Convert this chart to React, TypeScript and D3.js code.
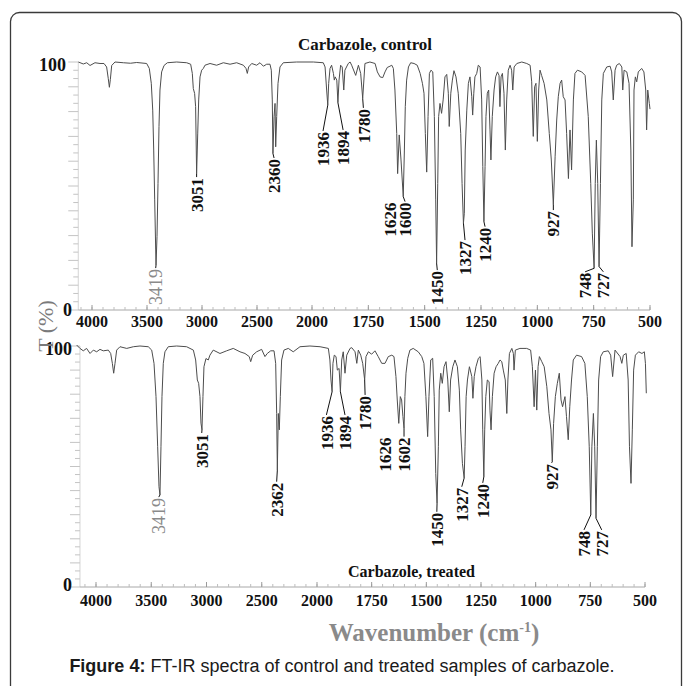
import React from 'react';
import * as d3 from 'd3';

// ---------- data ----------
const xTickValues = [4000, 3500, 3000, 2500, 2000, 1750, 1500, 1250, 1000, 750, 500];
const yTickLabels = [0, 100];

// [wavenumber (cm-1), transmittance (%)]
const controlSpectrum: [number, number][] = [
  [4124, 100], [4079, 99.2], [4048, 99.7], [4018, 98.6], [3973, 99.7], [3927, 99.4], [3891, 99.4],
  [3867, 98], [3852, 93.3], [3842, 89.8], [3833, 93], [3821, 98.6], [3791, 100], [3715, 99.7],
  [3650, 99.5], [3594, 99.8], [3503, 99.4], [3479, 97.4], [3461, 91.4], [3448, 80.6], [3439, 64.5],
  [3430, 44.4], [3421, 24.2], [3418, 18.1], [3409, 29.6], [3400, 51], [3391, 74], [3382, 88.7],
  [3367, 96], [3345, 98.6], [3315, 99.7], [3230, 100], [3139, 99.7], [3103, 99.1], [3088, 95.4],
  [3079, 89.3], [3067, 87.3], [3058, 82], [3052, 64.5], [3049, 55], [3039, 71], [3030, 84.7],
  [3018, 94], [3003, 96.7], [2988, 97.4], [2973, 98.7], [2927, 99.4], [2867, 98.7], [2806, 99.7],
  [2745, 99.1], [2685, 99.7], [2624, 98.7], [2600, 97.4], [2588, 95.4], [2576, 98], [2548, 99.4],
  [2503, 98.7], [2473, 99.7], [2442, 98.3], [2412, 99.1], [2382, 99.1], [2370, 96.7], [2361, 84.7],
  [2355, 63.1], [2345, 78], [2336, 83.3], [2330, 65.8], [2321, 78], [2309, 91.4], [2291, 98],
  [2261, 99.7], [2140, 100], [1994, 100], [1950, 99.7], [1942, 98], [1935, 88.7], [1930, 82.6],
  [1926, 91.4], [1920, 97.4], [1913, 98.7], [1905, 95.4], [1901, 92.7], [1897, 94], [1890, 92.7],
  [1885, 83.6], [1880, 92.7], [1873, 98.7], [1866, 98], [1859, 88.7], [1854, 96.7], [1839, 99.4],
  [1831, 100], [1824, 98.7], [1806, 94.6], [1794, 98.7], [1784, 95.4], [1775, 85.3], [1765, 99.4],
  [1743, 100], [1720, 99.4], [1710, 96], [1698, 94], [1686, 93.7], [1676, 96], [1666, 97.8],
  [1654, 98.3], [1646, 98.7], [1639, 97.4], [1632, 88.7], [1624, 71.2], [1620, 55], [1613, 70.6],
  [1605, 60.5], [1595, 45.7], [1590, 64.5], [1586, 82], [1580, 92.7], [1572, 98], [1562, 99.7],
  [1547, 99.4], [1533, 98.7], [1520, 95.4], [1510, 91.4], [1503, 87.4], [1497, 71.2], [1491, 55.6],
  [1485, 78], [1479, 95.4], [1472, 96.7], [1464, 96], [1457, 78], [1451, 44.4], [1447, 18.9],
  [1442, 51], [1438, 78], [1432, 83.3], [1425, 79.3], [1418, 84.7], [1410, 94], [1402, 95],
  [1395, 87.4], [1391, 74], [1384, 87.4], [1377, 92.7], [1370, 96.5], [1361, 94], [1351, 87.4],
  [1340, 71.2], [1334, 51], [1328, 35], [1324, 39], [1320, 64.5], [1313, 80.6], [1306, 91.4],
  [1299, 94], [1291, 86], [1287, 78.6], [1282, 87.4], [1277, 94], [1269, 95.4], [1262, 98.7],
  [1254, 98], [1247, 84.7], [1242, 57.8], [1237, 35.6], [1232, 57.8], [1228, 78], [1222, 87.4],
  [1216, 88.7], [1210, 72.6], [1206, 60.5], [1200, 78], [1192, 88.7], [1185, 94], [1177, 96],
  [1170, 94.6], [1166, 82], [1161, 94], [1155, 95.4], [1148, 87.4], [1142, 64.5], [1136, 84.7],
  [1129, 96.7], [1121, 98.7], [1114, 96.7], [1109, 88.7], [1103, 98], [1091, 99.4], [1069, 100],
  [1047, 99.4], [1032, 98.7], [1025, 92], [1018, 70], [1012, 90], [1006, 91.4], [1000, 68],
  [994, 88.7], [988, 96.7], [981, 94.6], [970, 91.4], [958, 84.7], [947, 71.2], [938, 60.5],
  [929, 42.4], [921, 62], [914, 76.6], [907, 86], [899, 91.4], [892, 92.7], [885, 86], [877, 84.7],
  [870, 71.2], [862, 53], [855, 72.6], [848, 56.5], [840, 84.7], [833, 95.4], [822, 96.7],
  [803, 96], [788, 94.6], [774, 78], [763, 51], [756, 31], [748, 16.8], [743, 51], [738, 68.5],
  [732, 51], [726, 17.5], [720, 51], [714, 84.7], [707, 95.4], [692, 98], [677, 98.3], [670, 96],
  [663, 84.7], [655, 96.7], [648, 98.7], [636, 99.4], [625, 98], [621, 88.7], [615, 96.7],
  [603, 96], [593, 91.4], [585, 64.5], [580, 25.5], [574, 44.4], [571, 88.7], [565, 94], [559, 92],
  [552, 96], [537, 97.4], [527, 96], [519, 88.7], [515, 72.6], [510, 88.7], [503, 83.3], [500, 81],
];

const treatedSpectrum: [number, number][] = [
  [4175, 100.4], [4145, 99], [4115, 98], [4085, 99], [4054, 96.9], [4024, 98.3], [3994, 97.6],
  [3964, 98.6], [3934, 98], [3889, 98.3], [3867, 96.9], [3852, 92.8], [3840, 88.7], [3828, 92.8],
  [3813, 98.3], [3783, 99.7], [3722, 99], [3662, 99.7], [3602, 100], [3527, 99.7], [3496, 98.3],
  [3475, 92.8], [3457, 79], [3442, 58.2], [3430, 41.6], [3421, 38.2], [3412, 58.2], [3403, 79],
  [3391, 92.8], [3376, 97.6], [3346, 99.7], [3270, 100], [3180, 99.7], [3119, 98.3], [3098, 94.2],
  [3083, 85.9], [3071, 84.5], [3059, 79], [3050, 68], [3041, 65.2], [3032, 79], [3023, 91.4],
  [3005, 94.8], [2984, 94.2], [2969, 96.2], [2939, 98.3], [2878, 96.9], [2818, 98], [2758, 99],
  [2697, 97.6], [2652, 96.9], [2613, 95.6], [2600, 93.5], [2582, 96.2], [2546, 97.6], [2501, 98.6],
  [2471, 95.6], [2450, 96.9], [2419, 98], [2389, 98], [2374, 92.8], [2365, 72], [2359, 48.5],
  [2350, 72], [2341, 65.2], [2332, 79], [2320, 94.2], [2299, 98.3], [2260, 99], [2215, 97.6],
  [2154, 99.7], [2064, 100], [1986, 99.7], [1948, 99], [1941, 94.2], [1936, 85.9], [1931, 81],
  [1927, 92.8], [1921, 96.2], [1913, 95.6], [1907, 90], [1899, 90.7], [1893, 81], [1887, 94.2],
  [1880, 97.6], [1872, 88.7], [1864, 96.2], [1849, 99], [1841, 99.3], [1826, 97.6], [1818, 92.8],
  [1811, 98.3], [1800, 96.2], [1791, 92.8], [1782, 85.9], [1776, 95.6], [1765, 97.6], [1750, 96.6],
  [1735, 98], [1720, 95.6], [1704, 92.8], [1689, 92.8], [1674, 95.6], [1658, 96.2], [1648, 95.6],
  [1639, 87.3], [1633, 77.6], [1626, 67.9], [1619, 79], [1613, 77.6], [1607, 70.7], [1602, 65.9],
  [1598, 79], [1593, 88.7], [1585, 94.9], [1575, 98.3], [1560, 99], [1537, 97.6], [1521, 95.6],
  [1511, 92.8], [1502, 79], [1494, 62.4], [1488, 79], [1480, 94.2], [1471, 94.9], [1464, 79],
  [1457, 47.1], [1451, 34.7], [1445, 58.2], [1441, 81.7], [1434, 88.7], [1427, 84.5], [1419, 91.4],
  [1410, 93.5], [1402, 85.9], [1395, 72.7], [1389, 85.9], [1379, 91.4], [1369, 94.2], [1358, 91.4],
  [1349, 81.7], [1343, 65.2], [1335, 51.3], [1327, 45.2], [1323, 58.2], [1318, 79], [1312, 85.9],
  [1303, 91.4], [1292, 87.3], [1287, 78.3], [1281, 87.3], [1273, 91.4], [1262, 94.9], [1254, 95.6],
  [1246, 85.9], [1242, 65.2], [1237, 45.7], [1233, 65.2], [1228, 79], [1221, 85.9], [1213, 85.2],
  [1209, 73.4], [1204, 65.2], [1198, 79], [1190, 88.7], [1181, 91.4], [1171, 92.8], [1163, 94.2],
  [1155, 93.5], [1148, 90], [1139, 85.9], [1132, 72], [1127, 85.9], [1120, 96.9], [1109, 99],
  [1102, 96.9], [1099, 90], [1093, 98.3], [1072, 99], [1041, 99], [1023, 98.3], [1015, 91.4],
  [1007, 74.8], [1001, 90], [995, 73.4], [989, 91.4], [983, 95.6], [972, 93.5], [961, 91.4],
  [949, 83.1], [939, 72], [930, 65.2], [924, 52], [918, 67.9], [910, 79], [901, 84.5], [892, 88.7],
  [884, 77.6], [877, 74.8], [866, 79], [859, 70.7], [851, 61.1], [844, 74.8], [836, 85.9],
  [828, 94.2], [813, 96.2], [790, 95.6], [775, 92.8], [764, 79], [755, 58.2], [748, 29.9],
  [743, 58.2], [736, 72], [730, 58.2], [724, 28.5], [718, 58.2], [712, 85.9], [703, 95.6],
  [691, 97.6], [668, 98], [657, 96.2], [648, 87.3], [637, 98.3], [614, 95.6], [606, 92.8],
  [599, 96.2], [586, 96.9], [577, 85.9], [571, 58.2], [564, 43], [558, 65.2], [552, 90],
  [544, 96.2], [529, 97.6], [514, 96.9], [503, 97.6], [498, 92.8], [494, 80.4],
];

type Peak = { text: string; wn: number; t: number; labelWn: number; labelT: number; grey?: boolean; noLeader?: boolean };

const controlPeaks: Peak[] = [
  { text: '3419', wn: 3418, t: 18.1, labelWn: 3421, labelT: 16.9, grey: true },
  { text: '3051', wn: 3049, t: 55, labelWn: 3049, labelT: 53.6 },
  { text: '2360', wn: 2355, t: 63.1, labelWn: 2345, labelT: 61.3 },
  { text: '1936', wn: 1930, t: 82.6, labelWn: 1951, labelT: 72.2 },
  { text: '1894', wn: 1885, t: 83.6, labelWn: 1862, labelT: 72.6 },
  { text: '1780', wn: 1775, t: 85.3, labelWn: 1772, labelT: 81.5 },
  { text: '1626', wn: 1620, t: 55, labelWn: 1654, labelT: 43.7, noLeader: true },
  { text: '1600', wn: 1595, t: 45.7, labelWn: 1587, labelT: 43.7 },
  { text: '1450', wn: 1447, t: 18.9, labelWn: 1444, labelT: 16.1 },
  { text: '1327', wn: 1328, t: 35, labelWn: 1321, labelT: 28.2 },
  { text: '1240', wn: 1237, t: 35.6, labelWn: 1232, labelT: 33.6 },
  { text: '927', wn: 929, t: 42.4, labelWn: 929, labelT: 40.3 },
  { text: '748', wn: 748, t: 16.8, labelWn: 788, labelT: 15.4 },
  { text: '727', wn: 726, t: 17.5, labelWn: 707, labelT: 15.4 },
];

const treatedPeaks: Peak[] = [
  { text: '3419', wn: 3421, t: 38.2, labelWn: 3432, labelT: 37.3, grey: true },
  { text: '3051', wn: 3041, t: 65.2, labelWn: 3043, labelT: 63.9 },
  { text: '2362', wn: 2359, t: 48.5, labelWn: 2365, labelT: 43.7 },
  { text: '1936', wn: 1931, t: 81, labelWn: 1957, labelT: 71.4 },
  { text: '1894', wn: 1893, t: 81, labelWn: 1872, labelT: 71.4 },
  { text: '1780', wn: 1782, t: 85.9, labelWn: 1780, labelT: 79.7 },
  { text: '1626', wn: 1626, t: 67.9, labelWn: 1689, labelT: 62.4, noLeader: true },
  { text: '1602', wn: 1602, t: 65.9, labelWn: 1602, labelT: 62.4 },
  { text: '1450', wn: 1451, t: 34.7, labelWn: 1452, labelT: 31.2 },
  { text: '1327', wn: 1327, t: 45.2, labelWn: 1338, labelT: 41.6 },
  { text: '1240', wn: 1237, t: 45.7, labelWn: 1242, labelT: 43.2 },
  { text: '927', wn: 924, t: 52, labelWn: 927, labelT: 51.5 },
  { text: '748', wn: 748, t: 29.9, labelWn: 779, labelT: 23.7 },
  { text: '727', wn: 724, t: 28.5, labelWn: 698, labelT: 23.7 },
];

// ---------- drawing ----------
const SERIF = '"Liberation Serif", "Times New Roman", serif';
const SANS = '"Liberation Sans", Arial, sans-serif';

type PanelProps = {
  x: d3.ScaleLinear<number, number>;
  y: d3.ScaleLinear<number, number>;
  data: [number, number][];
  peaks: Peak[];
  axisStart: number;
  labelDy: number;
  yLabelRight: [number, number];
  yLabelBase: [number, number];
};

function Panel({ x, y, data, peaks, axisStart, labelDy, yLabelRight, yLabelBase }: PanelProps) {
  const line = d3.line<[number, number]>().x((d) => x(d[0])).y((d) => y(d[1]));
  const y0 = y(0);
  const yTop = y(100);
  const axisX = x(axisStart);
  const minorUpper = d3.range(4100, 2000, -100);
  const minorLower = d3.range(2000, 499, -50);
  const minor = [...minorUpper, ...minorLower];
  const yTicks = d3.range(0, 100.01, 10 / 3);
  return (
    <g>
      <line x1={axisX} x2={axisX} y1={yTop} y2={y0} stroke="#d4d4d4" strokeWidth={1} />
      {yTicks.map((t, i) => (
        <line key={'yt' + i} x1={axisX - (i % 3 === 0 ? 10 : 5)} x2={axisX} y1={y(t)} y2={y(t)} stroke="#c4c4c4" strokeWidth={1} />
      ))}
      <line x1={axisX} x2={x(500)} y1={y0} y2={y0} stroke="#a8a8a8" strokeWidth={1} />
      {minor.map((w, i) => (
        <line key={'xm' + i} x1={x(w)} x2={x(w)} y1={y0} y2={y0 - 3} stroke="#bdbdbd" strokeWidth={1} />
      ))}
      {xTickValues.map((w) => (
        <line key={'xM' + w} x1={x(w)} x2={x(w)} y1={y0} y2={y0 - 5} stroke="#9a9a9a" strokeWidth={1} />
      ))}
      {xTickValues.map((w) => (
        <text key={'xl' + w} x={x(w)} y={y0 + labelDy} textAnchor="middle" fontFamily={SERIF} fontWeight="bold" fontSize={16} fill="#111">
          {w}
        </text>
      ))}
      {yTickLabels.map((t, i) => (
        <text key={'yl' + t} x={yLabelRight[i]} y={yLabelBase[i]} textAnchor="end" fontFamily={SERIF} fontWeight="bold" fontSize={18} fill="#111">
          {t}
        </text>
      ))}
      <path d={line(data) || ''} fill="none" stroke="#4d4d4d" strokeWidth={1} strokeLinejoin="round" />
      {peaks.map((p, i) => {
        const lx = x(p.labelWn);
        const ly = y(p.labelT);
        return (
          <g key={'pk' + i}>
            {!p.noLeader && (
              <line x1={x(p.wn)} y1={y(p.t)} x2={lx} y2={ly} stroke="#111" strokeWidth={1} />
            )}
            <text
              transform={`translate(${lx},${ly + 1}) rotate(-90)`}
              textAnchor="end"
              dy="0.36em"
              fontFamily={SERIF}
              fontWeight={p.grey ? 'normal' : 'bold'}
              fontSize={p.grey ? 18 : 17}
              fill={p.grey ? '#8a8a8a' : '#111'}
            >
              {p.text}
            </text>
          </g>
        );
      })}
    </g>
  );
}

export default function App() {
  const W = 685;
  const H = 686;
  const xTop = d3.scaleLinear().domain([4000, 2000, 500]).range([92, 312, 650]);
  const yTopScale = d3.scaleLinear().domain([0, 100]).range([310, 62]);
  const xBot = d3.scaleLinear().domain([4000, 2000, 500]).range([96, 317, 645]);
  const yBotScale = d3.scaleLinear().domain([0, 100]).range([587, 346]);

  return (
    <svg width={W} height={H} viewBox={`0 0 ${W} ${H}`} style={{ position: 'absolute', left: 0, top: 0, background: '#fff' }}>
      <rect x={0} y={0} width={W} height={H} fill="#fff" />
      <rect x={10.5} y={12.5} width={671} height={720} rx={9} fill="none" stroke="#3a3a3a" strokeWidth={1.3} />

      <text x={365} y={50} textAnchor="middle" fontFamily={SERIF} fontWeight="bold" fontSize={16} textLength={134} lengthAdjust="spacingAndGlyphs" fill="#111">
        Carbazole, control
      </text>

      <Panel
        x={xTop}
        y={yTopScale}
        data={controlSpectrum}
        peaks={controlPeaks}
        axisStart={4125}
        labelDy={17}
        yLabelRight={[72, 66]}
        yLabelBase={[316, 71]}
      />
      <Panel
        x={xBot}
        y={yBotScale}
        data={treatedSpectrum}
        peaks={treatedPeaks}
        axisStart={4145}
        labelDy={19}
        yLabelRight={[72, 72]}
        yLabelBase={[591, 355]}
      />

      <text x={348} y={577} fontFamily={SERIF} fontWeight="bold" fontSize={16} textLength={127} lengthAdjust="spacingAndGlyphs" fill="#111">
        Carbazole, treated
      </text>

      <text transform="translate(45,326) rotate(-90)" textAnchor="middle" dy="0.36em" fontFamily={SERIF} fontSize={22} fill="#7a7a7a">
        T (%)
      </text>

      <text x={434} y={641} textAnchor="middle" fontFamily={SERIF} fontWeight="bold" fontSize={25} fill="#8a8a8a">
        <tspan>Wavenumber (cm</tspan>
        <tspan dy={-9} fontSize={14}>-1</tspan>
        <tspan dy={9}>)</tspan>
      </text>

      <text x={342} y={672} textAnchor="middle" fontFamily={SANS} fontSize={18} fill="#1a1a1a">
        <tspan fontWeight="bold">Figure 4:</tspan>
        <tspan> FT-IR spectra of control and treated samples of carbazole.</tspan>
      </text>
    </svg>
  );
}
